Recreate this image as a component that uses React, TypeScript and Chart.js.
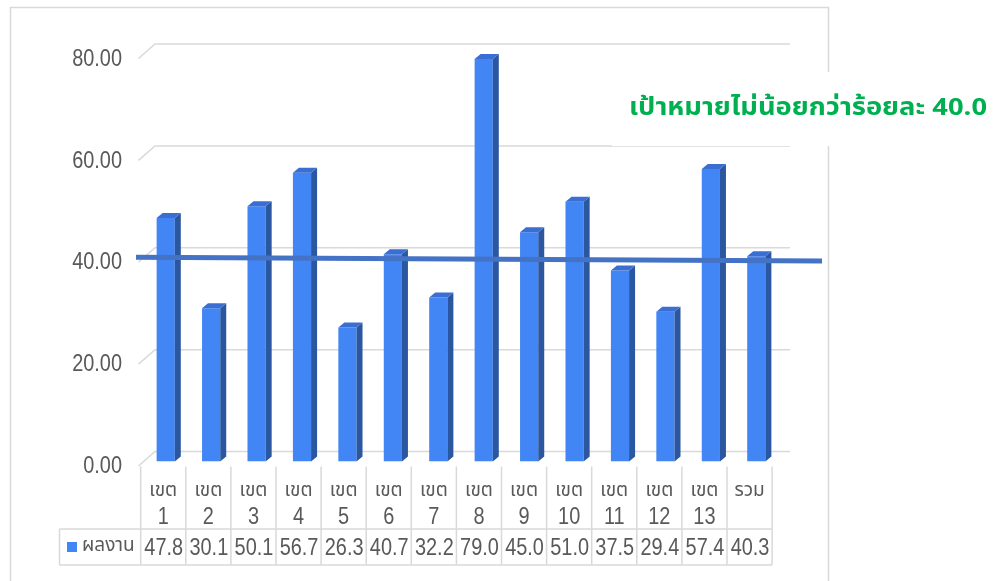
import React, { useEffect, useRef } from "react";
import { Chart, registerables } from "chart.js";

Chart.register(...registerables);

// ---------- data ----------
const CATEGORY_NAMES = ["เขต", "เขต", "เขต", "เขต", "เขต", "เขต", "เขต", "เขต", "เขต", "เขต", "เขต", "เขต", "เขต", "รวม"];
const CATEGORY_NUMBERS = ["1", "2", "3", "4", "5", "6", "7", "8", "9", "10", "11", "12", "13", ""];
const PERFORMANCE = [47.8, 30.1, 50.1, 56.7, 26.3, 40.7, 32.2, 79.0, 45.0, 51.0, 37.5, 29.4, 57.4, 40.3];
const Y_TICKS = [0, 20, 40, 60, 80];
const SERIES_LABEL = "ผลงาน";
const TARGET_TEXT = "เป้าหมายไม่น้อยกว่าร้อยละ 40.0";
// target line value at its left end and at its right end (drawn slightly tilted in the original)
const TARGET_LINE = [40.1, 39.35];

// ---------- styles ----------
const FRONT = "#4285F4";
const SIDE = "#2B56A0";
const TOP = "#3A6ED2";
const GRID = "#D9D9D9";
const TEXT = "#595959";
const TARGET_COLOR = "#4472C4";
const GREEN = "#00B050";
const NUM_FONT = "'Liberation Sans', Arial, sans-serif";
const THAI_FONT = "'Noto Sans Thai', 'Leelawadee UI', Tahoma, 'Liberation Sans', sans-serif";
const NARROW = 0.83;

const DEPTH_X = 6;
const DEPTH_Y = 5;
const BACK_DY = -10;

const TABLE_X0 = 140.7;
const TABLE_CW = 45.1;

function narrowText(ctx: CanvasRenderingContext2D, text: string, x: number, y: number, sx: number) {
  ctx.save();
  ctx.translate(x, y);
  ctx.scale(sx, 1);
  ctx.fillText(text, 0, 0);
  ctx.restore();
}

const threeD = {
  id: "threeD",
  beforeDraw(chart: any) {
    const ctx = chart.ctx;
    ctx.save();
    ctx.fillStyle = "#ffffff";
    ctx.fillRect(0, 0, chart.width, chart.height);
    ctx.strokeStyle = GRID;
    ctx.lineWidth = 1.5;
    ctx.strokeRect(10.5, 7.5, 818, 620);
    ctx.restore();
  },
  beforeDatasetsDraw(chart: any) {
    const ctx = chart.ctx;
    const y = chart.scales.y;
    ctx.save();
    ctx.strokeStyle = GRID;
    ctx.lineWidth = 1.5;
    Y_TICKS.forEach((v) => {
      const py = y.getPixelForValue(v);
      ctx.beginPath();
      ctx.moveTo(138.5, py + 4.5);
      ctx.lineTo(155, py + BACK_DY);
      ctx.lineTo(790, py + BACK_DY);
      ctx.stroke();
    });
    // y tick labels (condensed look of the original)
    ctx.fillStyle = TEXT;
    ctx.font = `24px ${NUM_FONT}`;
    ctx.textAlign = "right";
    ctx.textBaseline = "middle";
    y.ticks.forEach((t: any) => {
      narrowText(ctx, Number(t.value).toFixed(2), 122, y.getPixelForValue(t.value) + 5, NARROW);
    });
    ctx.restore();
  },
  afterDatasetsDraw(chart: any) {
    const ctx = chart.ctx;
    const meta = chart.getDatasetMeta(0);
    const ys = chart.scales.y;
    ctx.save();
    meta.data.forEach((bar: any) => {
      const { x, y, base, width } = bar.getProps(["x", "y", "base", "width"], true);
      const l = x - width / 2;
      const r = x + width / 2;
      ctx.fillStyle = SIDE;
      ctx.beginPath();
      ctx.moveTo(r, y);
      ctx.lineTo(r + DEPTH_X, y - DEPTH_Y);
      ctx.lineTo(r + DEPTH_X, base - DEPTH_Y);
      ctx.lineTo(r, base);
      ctx.closePath();
      ctx.fill();
      ctx.fillStyle = TOP;
      ctx.beginPath();
      ctx.moveTo(l, y);
      ctx.lineTo(l + DEPTH_X, y - DEPTH_Y);
      ctx.lineTo(r + DEPTH_X, y - DEPTH_Y);
      ctx.lineTo(r, y);
      ctx.closePath();
      ctx.fill();
    });

    // target line
    ctx.strokeStyle = TARGET_COLOR;
    ctx.lineWidth = 5;
    ctx.beginPath();
    ctx.moveTo(136, ys.getPixelForValue(TARGET_LINE[0]));
    ctx.lineTo(822, ys.getPixelForValue(TARGET_LINE[1]));
    ctx.stroke();

    // data table
    const n = PERFORMANCE.length;
    const xEnd = TABLE_X0 + n * TABLE_CW;
    ctx.strokeStyle = GRID;
    ctx.lineWidth = 1.5;
    ctx.beginPath();
    for (let k = 0; k <= n; k++) {
      const xx = TABLE_X0 + k * TABLE_CW;
      ctx.moveTo(xx, 466.5);
      ctx.lineTo(xx, 565);
    }
    ctx.moveTo(59.5, 529);
    ctx.lineTo(xEnd, 529);
    ctx.moveTo(59.5, 565);
    ctx.lineTo(xEnd, 565);
    ctx.moveTo(59.5, 529);
    ctx.lineTo(59.5, 565);
    ctx.stroke();

    ctx.fillStyle = TEXT;
    ctx.textAlign = "center";
    ctx.textBaseline = "middle";
    for (let i = 0; i < n; i++) {
      const cx = TABLE_X0 + (i + 0.5) * TABLE_CW;
      ctx.font = `20px ${THAI_FONT}`;
      narrowText(ctx, CATEGORY_NAMES[i], cx, 492, 0.95);
      ctx.font = `24px ${NUM_FONT}`;
      if (CATEGORY_NUMBERS[i]) narrowText(ctx, CATEGORY_NUMBERS[i], cx, 517, NARROW);
      narrowText(ctx, PERFORMANCE[i].toFixed(1), cx + 0.5, 548, NARROW);
    }
    // legend key
    ctx.fillStyle = FRONT;
    ctx.fillRect(67, 542, 10, 10);
    ctx.fillStyle = TEXT;
    ctx.textAlign = "left";
    ctx.font = `20px ${THAI_FONT}`;
    narrowText(ctx, SERIES_LABEL, 82, 547, 0.95);

    // annotation box
    ctx.fillStyle = "#ffffff";
    ctx.fillRect(612, 72, 381, 74);
    ctx.fillStyle = GREEN;
    ctx.font = `bold 24px ${THAI_FONT}`;
    ctx.textAlign = "left";
    ctx.textBaseline = "alphabetic";
    const w = ctx.measureText(TARGET_TEXT).width;
    narrowText(ctx, TARGET_TEXT, 629, 115, 358 / w);
    ctx.restore();
  },
};

export default function App() {
  const ref = useRef<HTMLCanvasElement | null>(null);
  useEffect(() => {
    if (!ref.current) return;
    const chart = new Chart(ref.current, {
      type: "bar",
      data: {
        labels: CATEGORY_NAMES.map((n, i) => (CATEGORY_NUMBERS[i] ? `${n} ${CATEGORY_NUMBERS[i]}` : n)),
        datasets: [
          {
            label: SERIES_LABEL,
            data: PERFORMANCE,
            backgroundColor: FRONT,
            borderWidth: 0,
            barPercentage: 0.4,
            categoryPercentage: 1,
          },
        ],
      },
      options: {
        responsive: false,
        animation: false,
        devicePixelRatio: 1,
        layout: { padding: { left: 0, right: 214, top: 54, bottom: 119.5 } },
        plugins: { legend: { display: false }, tooltip: { enabled: false } },
        scales: {
          x: { display: false },
          y: {
            min: 0,
            max: 80,
            afterFit: (s: any) => {
              s.width = 143;
            },
            grid: { display: false, drawTicks: false },
            border: { display: false },
            ticks: { stepSize: 20, display: false },
          },
        },
      },
      plugins: [threeD],
    });
    return () => chart.destroy();
  }, []);
  return (
    <div style={{ position: "absolute", left: 0, top: 0, width: 993, height: 581, background: "#fff" }}>
      <canvas ref={ref} width={993} height={581} style={{ display: "block" }} />
    </div>
  );
}
